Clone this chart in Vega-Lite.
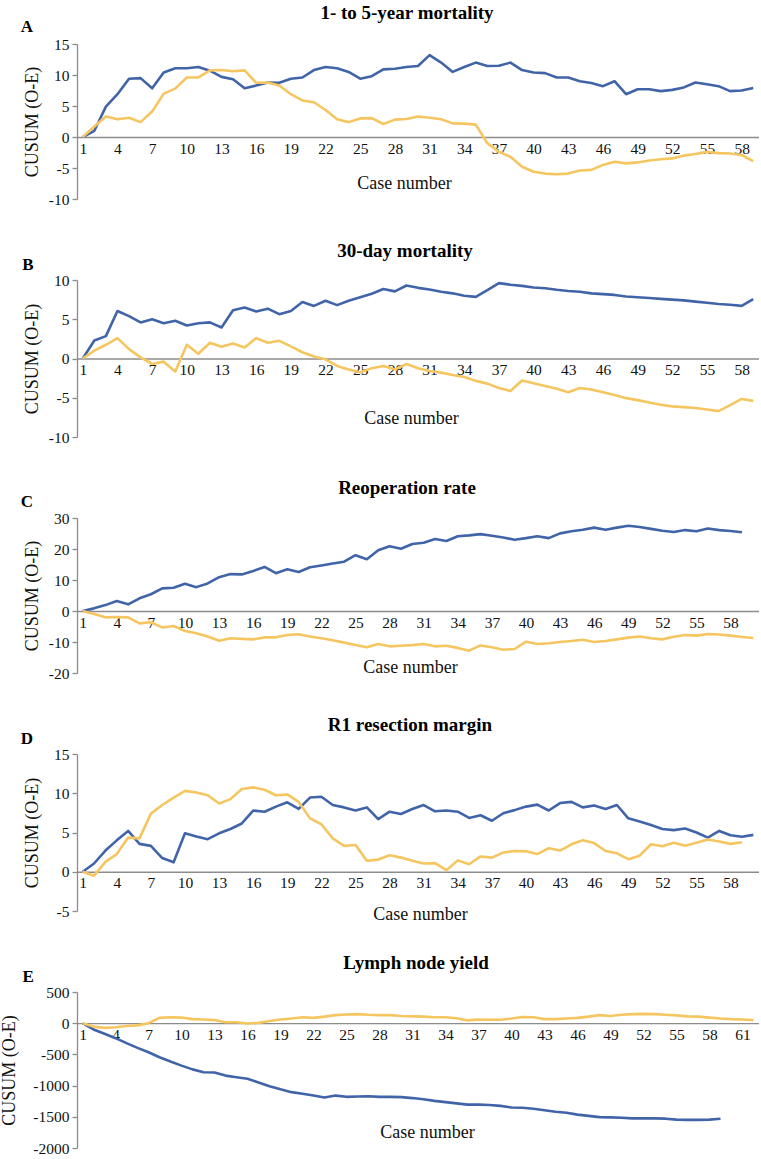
{
"$schema": "https://vega.github.io/schema/vega-lite/v6.json",
"padding": {"left": 0, "top": 4, "right": 0, "bottom": 0},
"config": {
  "font": "Liberation Serif",
  "view": {"stroke": null},
  "axis": {"grid": false, "domainColor": "#8c8c8c", "tickColor": "#8c8c8c", "domainWidth": 1.3, "tickWidth": 1.3, "labelFont": "Liberation Serif", "labelFontSize": 15.5, "labelColor": "#111111", "titleFont": "Liberation Serif", "titleFontWeight": "normal", "titleFontSize": 18, "titleColor": "#111111", "labelOverlap": false},
  "axisX": {"ticks": false, "tickSize": 0, "labelPadding": 4, "labelFlush": false, "labelOverlap": false, "titleBaseline": "middle", "titleAlign": "center"},
  "axisY": {"tickSize": 5, "labelPadding": 3, "titleAngle": 270, "titleBaseline": "middle", "titleAlign": "center", "labelOverlap": false},
  "title": {"font": "Liberation Serif", "fontSize": 19, "fontWeight": "bold", "color": "#000000"}
},
"datasets": {
"A": [
{"c":1,"s":"b","v":0},{"c":2,"s":"b","v":1.0},{"c":3,"s":"b","v":4.9},{"c":4,"s":"b","v":6.9},{"c":5,"s":"b","v":9.4},{"c":6,"s":"b","v":9.5},{"c":7,"s":"b","v":7.85},{"c":8,"s":"b","v":10.4},{"c":9,"s":"b","v":11.1},{"c":10,"s":"b","v":11.1},
{"c":11,"s":"b","v":11.3},{"c":12,"s":"b","v":10.7},{"c":13,"s":"b","v":9.7},{"c":14,"s":"b","v":9.3},{"c":15,"s":"b","v":7.85},{"c":16,"s":"b","v":8.3},{"c":17,"s":"b","v":8.8},{"c":18,"s":"b","v":8.75},{"c":19,"s":"b","v":9.4},{"c":20,"s":"b","v":9.6},
{"c":21,"s":"b","v":10.8},{"c":22,"s":"b","v":11.3},{"c":23,"s":"b","v":11.1},{"c":24,"s":"b","v":10.5},{"c":25,"s":"b","v":9.4},{"c":26,"s":"b","v":9.8},{"c":27,"s":"b","v":10.9},{"c":28,"s":"b","v":11.0},{"c":29,"s":"b","v":11.3},{"c":30,"s":"b","v":11.45},
{"c":31,"s":"b","v":13.2},{"c":32,"s":"b","v":12.0},{"c":33,"s":"b","v":10.5},{"c":34,"s":"b","v":11.3},{"c":35,"s":"b","v":12.0},{"c":36,"s":"b","v":11.45},{"c":37,"s":"b","v":11.5},{"c":38,"s":"b","v":12.0},{"c":39,"s":"b","v":10.8},{"c":40,"s":"b","v":10.4},
{"c":41,"s":"b","v":10.3},{"c":42,"s":"b","v":9.6},{"c":43,"s":"b","v":9.6},{"c":44,"s":"b","v":9.0},{"c":45,"s":"b","v":8.7},{"c":46,"s":"b","v":8.2},{"c":47,"s":"b","v":9.0},{"c":48,"s":"b","v":6.9},{"c":49,"s":"b","v":7.7},{"c":50,"s":"b","v":7.7},
{"c":51,"s":"b","v":7.4},{"c":52,"s":"b","v":7.6},{"c":53,"s":"b","v":8.0},{"c":54,"s":"b","v":8.8},{"c":55,"s":"b","v":8.5},{"c":56,"s":"b","v":8.2},{"c":57,"s":"b","v":7.4},{"c":58,"s":"b","v":7.5},{"c":59,"s":"b","v":7.9},
{"c":1,"s":"y","v":0},{"c":2,"s":"y","v":1.7},{"c":3,"s":"y","v":3.3},{"c":4,"s":"y","v":2.85},{"c":5,"s":"y","v":3.1},{"c":6,"s":"y","v":2.4},{"c":7,"s":"y","v":4.1},{"c":8,"s":"y","v":7.0},{"c":9,"s":"y","v":7.8},{"c":10,"s":"y","v":9.6},
{"c":11,"s":"y","v":9.6},{"c":12,"s":"y","v":10.75},{"c":13,"s":"y","v":10.8},{"c":14,"s":"y","v":10.6},{"c":15,"s":"y","v":10.75},{"c":16,"s":"y","v":8.75},{"c":17,"s":"y","v":8.8},{"c":18,"s":"y","v":8.3},{"c":19,"s":"y","v":6.9},{"c":20,"s":"y","v":5.9},
{"c":21,"s":"y","v":5.6},{"c":22,"s":"y","v":4.35},{"c":23,"s":"y","v":2.85},{"c":24,"s":"y","v":2.4},{"c":25,"s":"y","v":3.0},{"c":26,"s":"y","v":3.05},{"c":27,"s":"y","v":2.1},{"c":28,"s":"y","v":2.8},{"c":29,"s":"y","v":2.9},{"c":30,"s":"y","v":3.3},
{"c":31,"s":"y","v":3.1},{"c":32,"s":"y","v":2.85},{"c":33,"s":"y","v":2.2},{"c":34,"s":"y","v":2.15},{"c":35,"s":"y","v":2.0},{"c":36,"s":"y","v":-1.0},{"c":37,"s":"y","v":-2.4},{"c":38,"s":"y","v":-3.2},{"c":39,"s":"y","v":-4.8},{"c":40,"s":"y","v":-5.6},
{"c":41,"s":"y","v":-5.9},{"c":42,"s":"y","v":-6.0},{"c":43,"s":"y","v":-5.9},{"c":44,"s":"y","v":-5.4},{"c":45,"s":"y","v":-5.3},{"c":46,"s":"y","v":-4.5},{"c":47,"s":"y","v":-4.0},{"c":48,"s":"y","v":-4.25},{"c":49,"s":"y","v":-4.1},{"c":50,"s":"y","v":-3.8},
{"c":51,"s":"y","v":-3.6},{"c":52,"s":"y","v":-3.45},{"c":53,"s":"y","v":-3.0},{"c":54,"s":"y","v":-2.75},{"c":55,"s":"y","v":-2.4},{"c":56,"s":"y","v":-2.6},{"c":57,"s":"y","v":-2.65},{"c":58,"s":"y","v":-2.9},{"c":59,"s":"y","v":-3.9}
],
"B": [
{"c":1,"s":"b","v":0},{"c":2,"s":"b","v":2.3},{"c":3,"s":"b","v":2.85},{"c":4,"s":"b","v":6.05},{"c":5,"s":"b","v":5.4},{"c":6,"s":"b","v":4.6},{"c":7,"s":"b","v":5.0},{"c":8,"s":"b","v":4.5},{"c":9,"s":"b","v":4.8},{"c":10,"s":"b","v":4.2},
{"c":11,"s":"b","v":4.5},{"c":12,"s":"b","v":4.6},{"c":13,"s":"b","v":3.95},{"c":14,"s":"b","v":6.15},{"c":15,"s":"b","v":6.5},{"c":16,"s":"b","v":6.0},{"c":17,"s":"b","v":6.35},{"c":18,"s":"b","v":5.65},{"c":19,"s":"b","v":6.05},{"c":20,"s":"b","v":7.2},
{"c":21,"s":"b","v":6.7},{"c":22,"s":"b","v":7.35},{"c":23,"s":"b","v":6.8},{"c":24,"s":"b","v":7.35},{"c":25,"s":"b","v":7.8},{"c":26,"s":"b","v":8.25},{"c":27,"s":"b","v":8.85},{"c":28,"s":"b","v":8.55},{"c":29,"s":"b","v":9.3},{"c":30,"s":"b","v":9.0},
{"c":31,"s":"b","v":8.8},{"c":32,"s":"b","v":8.5},{"c":33,"s":"b","v":8.3},{"c":34,"s":"b","v":8.0},{"c":35,"s":"b","v":7.85},{"c":36,"s":"b","v":8.7},{"c":37,"s":"b","v":9.6},{"c":38,"s":"b","v":9.4},{"c":39,"s":"b","v":9.25},{"c":40,"s":"b","v":9.05},
{"c":41,"s":"b","v":8.95},{"c":42,"s":"b","v":8.75},{"c":43,"s":"b","v":8.6},{"c":44,"s":"b","v":8.5},{"c":45,"s":"b","v":8.3},{"c":46,"s":"b","v":8.2},{"c":47,"s":"b","v":8.1},{"c":48,"s":"b","v":7.9},{"c":49,"s":"b","v":7.8},{"c":50,"s":"b","v":7.7},
{"c":51,"s":"b","v":7.6},{"c":52,"s":"b","v":7.5},{"c":53,"s":"b","v":7.4},{"c":54,"s":"b","v":7.25},{"c":55,"s":"b","v":7.1},{"c":56,"s":"b","v":6.95},{"c":57,"s":"b","v":6.85},{"c":58,"s":"b","v":6.7},{"c":59,"s":"b","v":7.55},
{"c":1,"s":"y","v":0},{"c":2,"s":"y","v":1.0},{"c":3,"s":"y","v":1.75},{"c":4,"s":"y","v":2.6},{"c":5,"s":"y","v":1.2},{"c":6,"s":"y","v":0.15},{"c":7,"s":"y","v":-0.7},{"c":8,"s":"y","v":-0.4},{"c":9,"s":"y","v":-1.65},{"c":10,"s":"y","v":1.75},
{"c":11,"s":"y","v":0.6},{"c":12,"s":"y","v":2.0},{"c":13,"s":"y","v":1.5},{"c":14,"s":"y","v":1.9},{"c":15,"s":"y","v":1.4},{"c":16,"s":"y","v":2.6},{"c":17,"s":"y","v":2.0},{"c":18,"s":"y","v":2.25},{"c":19,"s":"y","v":1.55},{"c":20,"s":"y","v":0.8},
{"c":21,"s":"y","v":0.25},{"c":22,"s":"y","v":-0.1},{"c":23,"s":"y","v":-0.95},{"c":24,"s":"y","v":-1.4},{"c":25,"s":"y","v":-1.75},{"c":26,"s":"y","v":-1.25},{"c":27,"s":"y","v":-0.95},{"c":28,"s":"y","v":-1.4},{"c":29,"s":"y","v":-0.7},{"c":30,"s":"y","v":-1.25},
{"c":31,"s":"y","v":-1.6},{"c":32,"s":"y","v":-1.8},{"c":33,"s":"y","v":-2.1},{"c":34,"s":"y","v":-2.35},{"c":35,"s":"y","v":-2.85},{"c":36,"s":"y","v":-3.2},{"c":37,"s":"y","v":-3.75},{"c":38,"s":"y","v":-4.15},{"c":39,"s":"y","v":-2.8},{"c":40,"s":"y","v":-3.15},
{"c":41,"s":"y","v":-3.5},{"c":42,"s":"y","v":-3.85},{"c":43,"s":"y","v":-4.3},{"c":44,"s":"y","v":-3.75},{"c":45,"s":"y","v":-3.95},{"c":46,"s":"y","v":-4.3},{"c":47,"s":"y","v":-4.65},{"c":48,"s":"y","v":-5.05},{"c":49,"s":"y","v":-5.3},{"c":50,"s":"y","v":-5.6},
{"c":51,"s":"y","v":-5.9},{"c":52,"s":"y","v":-6.1},{"c":53,"s":"y","v":-6.2},{"c":54,"s":"y","v":-6.3},{"c":55,"s":"y","v":-6.5},{"c":56,"s":"y","v":-6.7},{"c":57,"s":"y","v":-5.95},{"c":58,"s":"y","v":-5.15},{"c":59,"s":"y","v":-5.4}
],
"C": [
{"c":1,"s":"b","v":0},{"c":2,"s":"b","v":0.85},{"c":3,"s":"b","v":1.9},{"c":4,"s":"b","v":3.2},{"c":5,"s":"b","v":2.15},{"c":6,"s":"b","v":4.1},{"c":7,"s":"b","v":5.4},{"c":8,"s":"b","v":7.3},{"c":9,"s":"b","v":7.5},{"c":10,"s":"b","v":8.8},
{"c":11,"s":"b","v":7.7},{"c":12,"s":"b","v":8.9},{"c":13,"s":"b","v":10.9},{"c":14,"s":"b","v":11.9},{"c":15,"s":"b","v":11.8},{"c":16,"s":"b","v":12.9},{"c":17,"s":"b","v":14.2},{"c":18,"s":"b","v":12.2},{"c":19,"s":"b","v":13.5},{"c":20,"s":"b","v":12.6},
{"c":21,"s":"b","v":14.1},{"c":22,"s":"b","v":14.7},{"c":23,"s":"b","v":15.3},{"c":24,"s":"b","v":15.9},{"c":25,"s":"b","v":18.0},{"c":26,"s":"b","v":16.7},{"c":27,"s":"b","v":19.6},{"c":28,"s":"b","v":20.9},{"c":29,"s":"b","v":20.1},{"c":30,"s":"b","v":21.6},
{"c":31,"s":"b","v":22.0},{"c":32,"s":"b","v":23.2},{"c":33,"s":"b","v":22.6},{"c":34,"s":"b","v":24.1},{"c":35,"s":"b","v":24.4},{"c":36,"s":"b","v":24.8},{"c":37,"s":"b","v":24.3},{"c":38,"s":"b","v":23.7},{"c":39,"s":"b","v":23.0},{"c":40,"s":"b","v":23.5},
{"c":41,"s":"b","v":24.1},{"c":42,"s":"b","v":23.5},{"c":43,"s":"b","v":25.05},{"c":44,"s":"b","v":25.7},{"c":45,"s":"b","v":26.2},{"c":46,"s":"b","v":26.9},{"c":47,"s":"b","v":26.2},{"c":48,"s":"b","v":26.9},{"c":49,"s":"b","v":27.5},{"c":50,"s":"b","v":27.1},
{"c":51,"s":"b","v":26.5},{"c":52,"s":"b","v":25.9},{"c":53,"s":"b","v":25.5},{"c":54,"s":"b","v":26.1},{"c":55,"s":"b","v":25.7},{"c":56,"s":"b","v":26.6},{"c":57,"s":"b","v":26.1},{"c":58,"s":"b","v":25.8},{"c":59,"s":"b","v":25.4},
{"c":1,"s":"y","v":0},{"c":2,"s":"y","v":-1.0},{"c":3,"s":"y","v":-2.05},{"c":4,"s":"y","v":-1.95},{"c":5,"s":"y","v":-2.05},{"c":6,"s":"y","v":-4.0},{"c":7,"s":"y","v":-3.65},{"c":8,"s":"y","v":-5.3},{"c":9,"s":"y","v":-4.85},{"c":10,"s":"y","v":-6.45},
{"c":11,"s":"y","v":-7.2},{"c":12,"s":"y","v":-8.2},{"c":13,"s":"y","v":-9.6},{"c":14,"s":"y","v":-8.8},{"c":15,"s":"y","v":-9.0},{"c":16,"s":"y","v":-9.15},{"c":17,"s":"y","v":-8.5},{"c":18,"s":"y","v":-8.5},{"c":19,"s":"y","v":-7.75},{"c":20,"s":"y","v":-7.5},
{"c":21,"s":"y","v":-8.2},{"c":22,"s":"y","v":-8.8},{"c":23,"s":"y","v":-9.45},{"c":24,"s":"y","v":-10.2},{"c":25,"s":"y","v":-10.95},{"c":26,"s":"y","v":-11.7},{"c":27,"s":"y","v":-10.65},{"c":28,"s":"y","v":-11.4},{"c":29,"s":"y","v":-11.2},{"c":30,"s":"y","v":-11.0},
{"c":31,"s":"y","v":-10.65},{"c":32,"s":"y","v":-11.4},{"c":33,"s":"y","v":-11.2},{"c":34,"s":"y","v":-11.9},{"c":35,"s":"y","v":-12.8},{"c":36,"s":"y","v":-11.1},{"c":37,"s":"y","v":-11.7},{"c":38,"s":"y","v":-12.5},{"c":39,"s":"y","v":-12.25},{"c":40,"s":"y","v":-9.9},
{"c":41,"s":"y","v":-10.65},{"c":42,"s":"y","v":-10.4},{"c":43,"s":"y","v":-10.0},{"c":44,"s":"y","v":-9.7},{"c":45,"s":"y","v":-9.25},{"c":46,"s":"y","v":-10.0},{"c":47,"s":"y","v":-9.7},{"c":48,"s":"y","v":-9.15},{"c":49,"s":"y","v":-8.6},{"c":50,"s":"y","v":-8.2},
{"c":51,"s":"y","v":-8.8},{"c":52,"s":"y","v":-9.15},{"c":53,"s":"y","v":-8.3},{"c":54,"s":"y","v":-7.75},{"c":55,"s":"y","v":-7.95},{"c":56,"s":"y","v":-7.4},{"c":57,"s":"y","v":-7.6},{"c":58,"s":"y","v":-7.95},{"c":59,"s":"y","v":-8.4},{"c":60,"s":"y","v":-8.7}
],
"D": [
{"c":1,"s":"b","v":0},{"c":2,"s":"b","v":1.05},{"c":3,"s":"b","v":2.7},{"c":4,"s":"b","v":4.0},{"c":5,"s":"b","v":5.2},{"c":6,"s":"b","v":3.55},{"c":7,"s":"b","v":3.3},{"c":8,"s":"b","v":1.75},{"c":9,"s":"b","v":1.2},{"c":10,"s":"b","v":4.9},
{"c":11,"s":"b","v":4.5},{"c":12,"s":"b","v":4.15},{"c":13,"s":"b","v":4.9},{"c":14,"s":"b","v":5.45},{"c":15,"s":"b","v":6.15},{"c":16,"s":"b","v":7.8},{"c":17,"s":"b","v":7.65},{"c":18,"s":"b","v":8.3},{"c":19,"s":"b","v":8.85},{"c":20,"s":"b","v":8.0},
{"c":21,"s":"b","v":9.45},{"c":22,"s":"b","v":9.55},{"c":23,"s":"b","v":8.5},{"c":24,"s":"b","v":8.2},{"c":25,"s":"b","v":7.8},{"c":26,"s":"b","v":8.2},{"c":27,"s":"b","v":6.7},{"c":28,"s":"b","v":7.65},{"c":29,"s":"b","v":7.35},{"c":30,"s":"b","v":8.0},
{"c":31,"s":"b","v":8.5},{"c":32,"s":"b","v":7.7},{"c":33,"s":"b","v":7.8},{"c":34,"s":"b","v":7.65},{"c":35,"s":"b","v":6.85},{"c":36,"s":"b","v":7.2},{"c":37,"s":"b","v":6.5},{"c":38,"s":"b","v":7.45},{"c":39,"s":"b","v":7.85},{"c":40,"s":"b","v":8.3},
{"c":41,"s":"b","v":8.55},{"c":42,"s":"b","v":7.8},{"c":43,"s":"b","v":8.75},{"c":44,"s":"b","v":8.9},{"c":45,"s":"b","v":8.2},{"c":46,"s":"b","v":8.45},{"c":47,"s":"b","v":8.0},{"c":48,"s":"b","v":8.5},{"c":49,"s":"b","v":6.8},{"c":50,"s":"b","v":6.4},
{"c":51,"s":"b","v":5.95},{"c":52,"s":"b","v":5.45},{"c":53,"s":"b","v":5.3},{"c":54,"s":"b","v":5.5},{"c":55,"s":"b","v":5.0},{"c":56,"s":"b","v":4.35},{"c":57,"s":"b","v":5.2},{"c":58,"s":"b","v":4.65},{"c":59,"s":"b","v":4.45},{"c":60,"s":"b","v":4.7},
{"c":1,"s":"y","v":0},{"c":2,"s":"y","v":-0.5},{"c":3,"s":"y","v":1.25},{"c":4,"s":"y","v":2.25},{"c":5,"s":"y","v":4.35},{"c":6,"s":"y","v":4.25},{"c":7,"s":"y","v":7.4},{"c":8,"s":"y","v":8.5},{"c":9,"s":"y","v":9.45},{"c":10,"s":"y","v":10.3},
{"c":11,"s":"y","v":10.1},{"c":12,"s":"y","v":9.75},{"c":13,"s":"y","v":8.7},{"c":14,"s":"y","v":9.25},{"c":15,"s":"y","v":10.55},{"c":16,"s":"y","v":10.75},{"c":17,"s":"y","v":10.45},{"c":18,"s":"y","v":9.75},{"c":19,"s":"y","v":9.85},{"c":20,"s":"y","v":8.9},
{"c":21,"s":"y","v":6.8},{"c":22,"s":"y","v":6.05},{"c":23,"s":"y","v":4.25},{"c":24,"s":"y","v":3.3},{"c":25,"s":"y","v":3.4},{"c":26,"s":"y","v":1.4},{"c":27,"s":"y","v":1.55},{"c":28,"s":"y","v":2.1},{"c":29,"s":"y","v":1.8},{"c":30,"s":"y","v":1.4},
{"c":31,"s":"y","v":1.05},{"c":32,"s":"y","v":1.1},{"c":33,"s":"y","v":0.2},{"c":34,"s":"y","v":1.45},{"c":35,"s":"y","v":0.95},{"c":36,"s":"y","v":1.95},{"c":37,"s":"y","v":1.8},{"c":38,"s":"y","v":2.45},{"c":39,"s":"y","v":2.65},{"c":40,"s":"y","v":2.6},
{"c":41,"s":"y","v":2.25},{"c":42,"s":"y","v":3.0},{"c":43,"s":"y","v":2.7},{"c":44,"s":"y","v":3.5},{"c":45,"s":"y","v":4.0},{"c":46,"s":"y","v":3.65},{"c":47,"s":"y","v":2.65},{"c":48,"s":"y","v":2.35},{"c":49,"s":"y","v":1.6},{"c":50,"s":"y","v":2.05},
{"c":51,"s":"y","v":3.5},{"c":52,"s":"y","v":3.25},{"c":53,"s":"y","v":3.7},{"c":54,"s":"y","v":3.3},{"c":55,"s":"y","v":3.7},{"c":56,"s":"y","v":4.1},{"c":57,"s":"y","v":3.85},{"c":58,"s":"y","v":3.55},{"c":59,"s":"y","v":3.75}
],
"E": [
{"c":1,"s":"b","v":0},{"c":2,"s":"b","v":-100},{"c":3,"s":"b","v":-170},{"c":4,"s":"b","v":-240},{"c":5,"s":"b","v":-320},{"c":6,"s":"b","v":-395},{"c":7,"s":"b","v":-465},{"c":8,"s":"b","v":-545},{"c":9,"s":"b","v":-615},{"c":10,"s":"b","v":-680},
{"c":11,"s":"b","v":-740},{"c":12,"s":"b","v":-785},{"c":13,"s":"b","v":-790},{"c":14,"s":"b","v":-840},{"c":15,"s":"b","v":-865},{"c":16,"s":"b","v":-890},{"c":17,"s":"b","v":-950},{"c":18,"s":"b","v":-1010},{"c":19,"s":"b","v":-1060},{"c":20,"s":"b","v":-1105},
{"c":21,"s":"b","v":-1130},{"c":22,"s":"b","v":-1160},{"c":23,"s":"b","v":-1190},{"c":24,"s":"b","v":-1160},{"c":25,"s":"b","v":-1180},{"c":26,"s":"b","v":-1175},{"c":27,"s":"b","v":-1170},{"c":28,"s":"b","v":-1180},{"c":29,"s":"b","v":-1180},{"c":30,"s":"b","v":-1185},
{"c":31,"s":"b","v":-1200},{"c":32,"s":"b","v":-1220},{"c":33,"s":"b","v":-1245},{"c":34,"s":"b","v":-1265},{"c":35,"s":"b","v":-1285},{"c":36,"s":"b","v":-1305},{"c":37,"s":"b","v":-1305},{"c":38,"s":"b","v":-1310},{"c":39,"s":"b","v":-1325},{"c":40,"s":"b","v":-1350},
{"c":41,"s":"b","v":-1355},{"c":42,"s":"b","v":-1370},{"c":43,"s":"b","v":-1395},{"c":44,"s":"b","v":-1420},{"c":45,"s":"b","v":-1435},{"c":46,"s":"b","v":-1465},{"c":47,"s":"b","v":-1485},{"c":48,"s":"b","v":-1505},{"c":49,"s":"b","v":-1510},{"c":50,"s":"b","v":-1515},
{"c":51,"s":"b","v":-1525},{"c":52,"s":"b","v":-1525},{"c":53,"s":"b","v":-1525},{"c":54,"s":"b","v":-1530},{"c":55,"s":"b","v":-1545},{"c":56,"s":"b","v":-1550},{"c":57,"s":"b","v":-1550},{"c":58,"s":"b","v":-1545},{"c":59,"s":"b","v":-1530},
{"c":1,"s":"y","v":0},{"c":2,"s":"y","v":-55},{"c":3,"s":"y","v":-75},{"c":4,"s":"y","v":-65},{"c":5,"s":"y","v":-45},{"c":6,"s":"y","v":-35},{"c":7,"s":"y","v":0},{"c":8,"s":"y","v":85},{"c":9,"s":"y","v":95},{"c":10,"s":"y","v":90},
{"c":11,"s":"y","v":65},{"c":12,"s":"y","v":60},{"c":13,"s":"y","v":50},{"c":14,"s":"y","v":15},{"c":15,"s":"y","v":15},{"c":16,"s":"y","v":-5},{"c":17,"s":"y","v":5},{"c":18,"s":"y","v":35},{"c":19,"s":"y","v":60},{"c":20,"s":"y","v":75},
{"c":21,"s":"y","v":95},{"c":22,"s":"y","v":85},{"c":23,"s":"y","v":105},{"c":24,"s":"y","v":130},{"c":25,"s":"y","v":140},{"c":26,"s":"y","v":145},{"c":27,"s":"y","v":135},{"c":28,"s":"y","v":130},{"c":29,"s":"y","v":130},{"c":30,"s":"y","v":115},
{"c":31,"s":"y","v":110},{"c":32,"s":"y","v":105},{"c":33,"s":"y","v":95},{"c":34,"s":"y","v":95},{"c":35,"s":"y","v":80},{"c":36,"s":"y","v":45},{"c":37,"s":"y","v":60},{"c":38,"s":"y","v":55},{"c":39,"s":"y","v":55},{"c":40,"s":"y","v":75},
{"c":41,"s":"y","v":100},{"c":42,"s":"y","v":95},{"c":43,"s":"y","v":65},{"c":44,"s":"y","v":65},{"c":45,"s":"y","v":75},{"c":46,"s":"y","v":85},{"c":47,"s":"y","v":105},{"c":48,"s":"y","v":130},{"c":49,"s":"y","v":115},{"c":50,"s":"y","v":135},
{"c":51,"s":"y","v":145},{"c":52,"s":"y","v":150},{"c":53,"s":"y","v":145},{"c":54,"s":"y","v":135},{"c":55,"s":"y","v":125},{"c":56,"s":"y","v":110},{"c":57,"s":"y","v":105},{"c":58,"s":"y","v":90},{"c":59,"s":"y","v":75},{"c":60,"s":"y","v":65},
{"c":61,"s":"y","v":60},{"c":62,"s":"y","v":50}
]
},
"bounds": "flush",
"spacing": 81,
"vconcat": [
{
  "width": 682, "height": 155,
  "title": {"text": "1- to 5-year mortality", "dx": -11, "dy": 27, "offset": 22},
  "layer": [
    {"data": {"name": "A"}, "mark": {"type": "line", "strokeWidth": 2.6, "strokeJoin": "round"},
     "encoding": {
      "x": {"field": "c", "type": "quantitative", "scale": {"domain": [0.5, 59.5], "nice": false, "zero": false},
            "axis": {"values": [1,4,7,10,13,16,19,22,25,28,31,34,37,40,43,46,49,52,55,58], "tickCount": 100, "labelOverlap": false, "labelExpr": "'' + datum.value", "offset": -62, "title": "Case number", "titleX": 327, "titleY": 46}},
      "y": {"field": "v", "type": "quantitative", "scale": {"domain": [-10, 15], "nice": false, "zero": false},
            "axis": {"values": [-10,-5,0,5,10,15], "tickCount": 100, "labelOverlap": false, "labelExpr": "'' + datum.value", "title": "CUSUM (O-E)", "titleX": -45, "titleY": 77.5}},
      "color": {"field": "s", "type": "nominal", "scale": {"domain": ["y","b"], "range": ["#F5C660","#4164A9"]}, "legend": null}
     }},
    {"data": {"values": [{}]}, "mark": {"type": "text", "font": "Liberation Serif", "fontWeight": "bold", "fontSize": 17, "color": "#000000"},
     "encoding": {"x": {"datum": -3.83}, "y": {"datum": 17.74}, "text": {"value": "A"}}}
  ]
},
{
  "width": 682, "height": 157,
  "title": {"text": "30-day mortality", "dx": -13, "dy": 27, "offset": 22},
  "layer": [
    {"data": {"name": "B"}, "mark": {"type": "line", "strokeWidth": 2.6, "strokeJoin": "round"},
     "encoding": {
      "x": {"field": "c", "type": "quantitative", "scale": {"domain": [0.5, 59.5], "nice": false, "zero": false},
            "axis": {"values": [1,4,7,10,13,16,19,22,25,28,31,34,37,40,43,46,49,52,55,58], "tickCount": 100, "labelOverlap": false, "labelExpr": "'' + datum.value", "offset": -78.5, "title": "Case number", "titleX": 334, "titleY": 60}},
      "y": {"field": "v", "type": "quantitative", "scale": {"domain": [-10, 10], "nice": false, "zero": false},
            "axis": {"values": [-10,-5,0,5,10], "tickCount": 100, "labelOverlap": false, "labelExpr": "'' + datum.value", "title": "CUSUM (O-E)", "titleX": -45, "titleY": 78.5}},
      "color": {"field": "s", "type": "nominal", "scale": {"domain": ["y","b"], "range": ["#F5C660","#4164A9"]}, "legend": null}
     }},
    {"data": {"values": [{}]}, "mark": {"type": "text", "font": "Liberation Serif", "fontWeight": "bold", "fontSize": 17, "color": "#000000"},
     "encoding": {"x": {"datum": -3.74}, "y": {"datum": 11.9}, "text": {"value": "B"}}}
  ]
},
{
  "width": 682, "height": 155,
  "title": {"text": "Reoperation rate", "dx": -11, "dy": 27, "offset": 22},
  "layer": [
    {"data": {"name": "C"}, "mark": {"type": "line", "strokeWidth": 2.6, "strokeJoin": "round"},
     "encoding": {
      "x": {"field": "c", "type": "quantitative", "scale": {"domain": [0.5, 60.5], "nice": false, "zero": false},
            "axis": {"values": [1,4,7,10,13,16,19,22,25,28,31,34,37,40,43,46,49,52,55,58], "tickCount": 100, "labelOverlap": false, "labelExpr": "'' + datum.value", "offset": -62, "title": "Case number", "titleX": 333, "titleY": 56}},
      "y": {"field": "v", "type": "quantitative", "scale": {"domain": [-20, 30], "nice": false, "zero": false},
            "axis": {"values": [-20,-10,0,10,20,30], "tickCount": 100, "labelOverlap": false, "labelExpr": "'' + datum.value", "title": "CUSUM (O-E)", "titleX": -45, "titleY": 77.5}},
      "color": {"field": "s", "type": "nominal", "scale": {"domain": ["y","b"], "range": ["#F5C660","#4164A9"]}, "legend": null}
     }},
    {"data": {"values": [{}]}, "mark": {"type": "text", "font": "Liberation Serif", "fontWeight": "bold", "fontSize": 17, "color": "#000000"},
     "encoding": {"x": {"datum": -3.9}, "y": {"datum": 35.2}, "text": {"value": "C"}}}
  ]
},
{
  "width": 682, "height": 157,
  "title": {"text": "R1 resection margin", "dx": -8, "dy": 27, "offset": 22},
  "layer": [
    {"data": {"name": "D"}, "mark": {"type": "line", "strokeWidth": 2.6, "strokeJoin": "round"},
     "encoding": {
      "x": {"field": "c", "type": "quantitative", "scale": {"domain": [0.5, 60.5], "nice": false, "zero": false},
            "axis": {"values": [1,4,7,10,13,16,19,22,25,28,31,34,37,40,43,46,49,52,55,58], "tickCount": 100, "labelOverlap": false, "labelExpr": "'' + datum.value", "offset": -39.25, "title": "Case number", "titleX": 343, "titleY": 43}},
      "y": {"field": "v", "type": "quantitative", "scale": {"domain": [-5, 15], "nice": false, "zero": false},
            "axis": {"values": [-5,0,5,10,15], "tickCount": 100, "labelOverlap": false, "labelExpr": "'' + datum.value", "title": "CUSUM (O-E)", "titleX": -45, "titleY": 78.5}},
      "color": {"field": "s", "type": "nominal", "scale": {"domain": ["y","b"], "range": ["#F5C660","#4164A9"]}, "legend": null}
     }},
    {"data": {"values": [{}]}, "mark": {"type": "text", "font": "Liberation Serif", "fontWeight": "bold", "fontSize": 17, "color": "#000000"},
     "encoding": {"x": {"datum": -3.9}, "y": {"datum": 16.9}, "text": {"value": "D"}}}
  ]
},
{
  "width": 682, "height": 156,
  "title": {"text": "Lymph node yield", "dx": -2, "dy": 27, "offset": 22},
  "layer": [
    {"data": {"name": "E"}, "mark": {"type": "line", "strokeWidth": 2.6, "strokeJoin": "round"},
     "encoding": {
      "x": {"field": "c", "type": "quantitative", "scale": {"domain": [0.5, 62.5], "nice": false, "zero": false},
            "axis": {"values": [1,4,7,10,13,16,19,22,25,28,31,34,37,40,43,46,49,52,55,58,61], "tickCount": 100, "labelOverlap": false, "labelExpr": "'' + datum.value", "offset": -124.8, "title": "Case number", "titleX": 350, "titleY": 109}},
      "y": {"field": "v", "type": "quantitative", "scale": {"domain": [-2000, 500], "nice": false, "zero": false},
            "axis": {"values": [-2000,-1500,-1000,-500,0,500], "tickCount": 100, "labelOverlap": false, "labelExpr": "'' + datum.value", "title": "CUSUM (O-E)", "titleX": -68, "titleY": 78}},
      "color": {"field": "s", "type": "nominal", "scale": {"domain": ["y","b"], "range": ["#F5C660","#4164A9"]}, "legend": null}
     }},
    {"data": {"values": [{}]}, "mark": {"type": "text", "font": "Liberation Serif", "fontWeight": "bold", "fontSize": 17, "color": "#000000"},
     "encoding": {"x": {"datum": -3.95}, "y": {"datum": 740}, "text": {"value": "E"}}}
  ]
}
]
}
